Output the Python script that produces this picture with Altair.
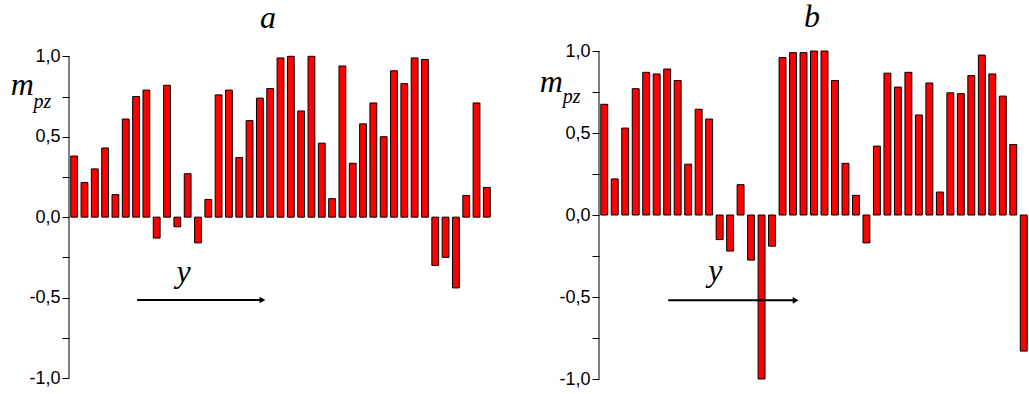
import altair as alt
import pandas as pd

# ---- data ----
vals_a = [0.38, 0.215, 0.30, 0.43, 0.14, 0.61, 0.75, 0.79, -0.13, 0.82,
          -0.06, 0.27, -0.16, 0.11, 0.76, 0.79, 0.37, 0.60, 0.74, 0.80,
          0.99, 1.00, 0.66, 1.00, 0.46, 0.115, 0.94, 0.335, 0.58, 0.71,
          0.50, 0.91, 0.83, 0.99, 0.98, -0.30, -0.25, -0.44, 0.135, 0.71,
          0.185]
vals_b = [0.675, 0.22, 0.53, 0.77, 0.87, 0.86, 0.89, 0.82, 0.31, 0.645,
          0.585, -0.15, -0.22, 0.185, -0.275, -1.00, -0.19, 0.96, 0.99, 0.99,
          1.00, 1.00, 0.82, 0.315, 0.12, -0.17, 0.42, 0.865, 0.78, 0.87,
          0.61, 0.805, 0.14, 0.745, 0.74, 0.85, 0.975, 0.86, 0.725, 0.43,
          -0.83]
panel_titles = ["a", "b"]
y_tick_values = [-1.0, -0.75, -0.5, -0.25, 0.0, 0.25, 0.5, 0.75, 1.0]

# annotation anchors (data units)
arrow_x0, arrow_x1 = 7.1, 19.1
arrow_head_x = 19.25
arrow_y = [-0.515, -0.52]
ylab_x, ylab_y = 11.6, -0.405
m_x, pz_x = -5.15, -2.95
m_y, pz_y = [0.76, 0.75], [0.68, 0.68]
title_x = [19.8, 20.8]
title_y = [1.176, 1.146]
y_top = [1.033, 1.0]          # upper end of each panel's value scale

SERIF = "Liberation Serif"
SANS = "Liberation Sans"

label_expr = ("abs(datum.value % 0.5) > 0.001 ? '' : "
              "(datum.value < 0 ? '-' : '') + replace(format(abs(datum.value), '.1f'), '.', ',')")


def xenc(field):
    return alt.X(field, type="quantitative",
                 scale=alt.Scale(domain=[0.5, 41.5], nice=False, zero=False),
                 axis=None)


def yenc(field, k):
    return alt.Y(field, type="quantitative",
                 scale=alt.Scale(domain=[-1, y_top[k]], nice=False, zero=False),
                 axis=alt.Axis(values=y_tick_values, labelExpr=label_expr,
                               title=None, grid=False, domain=False,
                               tickColor="black", tickWidth=1,
                               tickSize=7, labelFont=SANS, labelFontSize=18,
                               labelColor="black", labelPadding=2,
                               labelOverlap=False, labelFlush=False))


def panel(vals, k, width, height):
    df = pd.DataFrame({"i": list(range(1, len(vals) + 1)), "v": vals})
    bars = alt.Chart(df).transform_calculate(
        x="datum.i - 0.33", x2="datum.i + 0.33", y="datum.v", zero="0"
    ).mark_bar(color="#ff0000", stroke="black", strokeWidth=1).encode(
        x=xenc("x"), x2="x2:Q", y=yenc("y", k), y2="zero:Q"
    )

    axis_df = pd.DataFrame({"x": [0.5], "y": [-1.0], "y2": [1.0]})
    axis_line = alt.Chart(axis_df).mark_rule(color="black", strokeWidth=1).encode(
        x=xenc("x"), y=yenc("y", k), y2="y2:Q")

    arrow_df = pd.DataFrame({"x": [arrow_x0], "x2": [arrow_x1], "y": [arrow_y[k]]})
    arrow = alt.Chart(arrow_df).mark_rule(color="black", strokeWidth=2).encode(
        x=xenc("x"), x2="x2:Q", y=yenc("y", k))
    head_df = pd.DataFrame({"x": [arrow_head_x], "y": [arrow_y[k]]})
    head = alt.Chart(head_df).mark_point(shape="triangle-right", filled=True,
                                         color="black", size=45, opacity=1).encode(
        x=xenc("x"), y=yenc("y", k))

    def txt(x, y, t, size, align="center"):
        d = pd.DataFrame({"x": [x], "y": [y], "t": [t]})
        return alt.Chart(d).mark_text(font=SERIF, fontStyle="italic", fontSize=size,
                                      align=align, baseline="alphabetic",
                                      color="black").encode(
            x=xenc("x"), y=yenc("y", k), text="t:N")

    ylab = txt(ylab_x, ylab_y, "y", 32)
    m = txt(m_x, m_y[k], "m", 32, "left")
    pz = txt(pz_x, pz_y[k], "pz", 20, "left")
    title = txt(title_x[k], title_y[k], panel_titles[k], 32)

    return alt.layer(bars, axis_line, arrow, head, ylab, m, pz, title).properties(
        width=width, height=height)


left = panel(vals_a, 0, 423, 327)
right = panel(vals_b, 1, 430, 328)

chart = alt.hconcat(left, right, spacing=47).properties(
    padding={"left": 10, "top": 1, "right": 0, "bottom": 0}
).configure_view(strokeWidth=0)

chart.save("out.html", embed_options={"renderer": "svg", "actions": False})
